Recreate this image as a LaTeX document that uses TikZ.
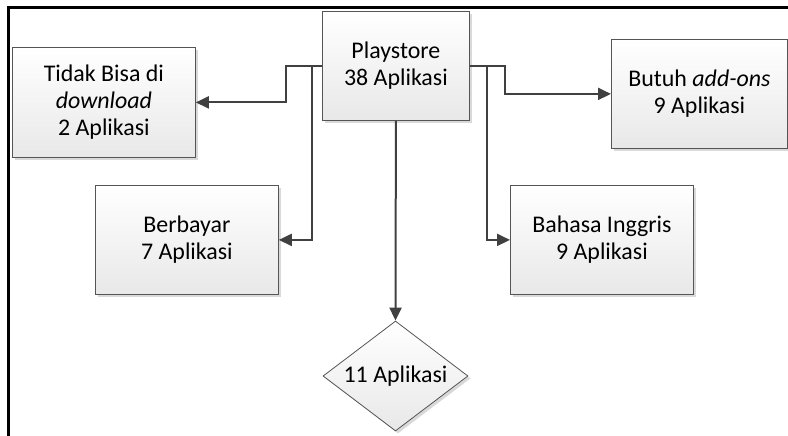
\documentclass[tikz,border=0pt]{standalone}
\usepackage{fontspec}
\setmainfont{Carlito}
\usetikzlibrary{shapes.geometric,arrows.meta,shadows}
\definecolor{linec}{HTML}{404040}
\definecolor{boxline}{HTML}{555555}
\tikzset{
  boxbase/.style={draw=boxline, line width=0.8bp, top color=white, bottom color=black!9,
    drop shadow={shadow xshift=2.5bp, shadow yshift=-2.5bp, fill=black!25, opacity=0.6},
    inner sep=0pt, align=center, font=\fontsize{24}{27}\selectfont},
  stepbox/.style={boxbase, rectangle, anchor=north west},
  decbox/.style={boxbase, diamond},
  conn/.style={draw=linec, line width=2bp, -{Triangle[length=13bp,width=12bp]}},
  txt/.style={align=center, font=\fontsize{24}{27}\selectfont},
}
\begin{document}
\begin{tikzpicture}[x=1bp,y=-1bp]
\useasboundingbox (0,0) rectangle (788,436);
% frame
\draw[line width=2.6bp, black] (8.7,436) -- (8.7,7.3) -- (788,7.3);

\node[stepbox, minimum width=147bp, minimum height=109bp] (ps) at (322,11) {Playstore\\38 Aplikasi};
\node[stepbox, minimum width=183bp, minimum height=110bp] (tidak) at (12,47) {Tidak Bisa di\\\textit{download}\\2 Aplikasi};
\node[stepbox, minimum width=176bp, minimum height=109bp] (butuh) at (611,39) {Butuh \textit{add-ons}\\9 Aplikasi};
\node[stepbox, minimum width=183bp, minimum height=109bp] (berb) at (95,185) {Berbayar\\7 Aplikasi};
\node[stepbox, minimum width=183bp, minimum height=109bp] (bahasa) at (510,185) {Bahasa Inggris\\9 Aplikasi};
\node[decbox, minimum width=145bp, minimum height=110bp, aspect=1.32] (dia) at (395.5,376) {};
\node[txt, inner sep=0pt] (diat) at (dia.center) {11 Aplikasi};

\coordinate (jl) at (286,0);
\coordinate (jb) at (311.5,0);
\coordinate (ji) at (486.5,0);
\coordinate (jr) at (505,0);

\draw[conn] (ps.west) -- (ps.west -| jl) |- (tidak.east);
\draw[conn] (ps.west -| jl) -- (ps.west -| jb) |- (berb.east);
\draw[conn] (ps.east) -- (ps.east -| jr) |- (butuh.west);
\draw[conn] (ps.east -| ji) |- (bahasa.west);
\draw[conn] (ps.south) -- (dia.north);
\end{tikzpicture}
\end{document}
